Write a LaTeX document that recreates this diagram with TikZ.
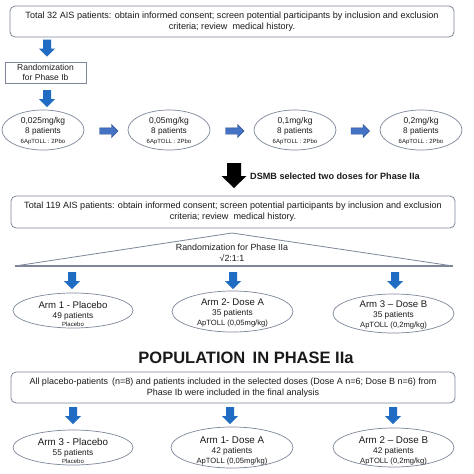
\documentclass[tikz,border=0pt]{standalone}
\usepackage{fontspec}
\setmainfont{Liberation Sans}
\usetikzlibrary{shapes.geometric}
\definecolor{ablue}{HTML}{1F6CC2}
\definecolor{rblue}{HTML}{4472C4}
\definecolor{rblueline}{HTML}{2F528F}
\definecolor{lineg}{HTML}{7D8799}
\definecolor{txt}{HTML}{1A1A1A}
\begin{document}
\begin{tikzpicture}[x=1pt,y=-1pt,
  box/.style={draw=lineg, line width=0.8pt, rounded corners=5pt, inner sep=0pt, text=txt},
  sqbox/.style={draw=lineg, line width=0.8pt, inner sep=0pt, text=txt},
  oval/.style={ellipse, draw=lineg, line width=0.7pt, inner sep=0pt},
  lbl/.style={align=center, inner sep=0pt, text=txt},
  darrow/.pic={\fill[ablue] (-4,0) -- (4,0) -- (4,9) -- (8,9) -- (0,17) -- (-8,9) -- (-4,9) -- cycle;},
  rarrow/.pic={\filldraw[fill=rblue, draw=rblueline, line width=0.4pt] (0,-3.2) -- (12,-3.2) -- (12,-6.5) -- (18.5,0) -- (12,6.5) -- (12,3.2) -- (0,3.2) -- cycle;},
  barrow/.pic={\fill[black] (-7,0) -- (7,0) -- (7,13) -- (12.5,13) -- (0,25) -- (-12.5,13) -- (-7,13) -- cycle;}
]
\useasboundingbox (0,0) rectangle (474,474);
\fill[white] (0,0) rectangle (474,474);

% ---------- Phase Ib ----------
\node[box, minimum width=444pt, minimum height=31pt] (top) at (232,21.5) {};
\node[lbl, font=\fontsize{9.1}{11}\selectfont] (toptxt) at (top) {Total 32 AIS patients: obtain informed consent; screen potential participants by inclusion and exclusion\\criteria; review \ medical history.};

\pic at (47,39.5) {darrow};

\node[sqbox, minimum width=81pt, minimum height=21pt] (rand) at (45.5,72.5) {};
\node[lbl, font=\fontsize{8.5}{10.5}\selectfont] at (rand) {Randomization\\for Phase Ib};

\pic at (47,90) {darrow};

\foreach \i/\x/\d in {1/43/{0,025mg/kg}, 2/169/{0,05mg/kg}, 3/295/{0,1mg/kg}, 4/421/{0,2mg/kg}}{
  \node[oval, minimum width=82pt, minimum height=40pt] (d\i) at (\x,130) {};
  \node[lbl] at (\x,131) {{\fontsize{8.5}{9}\selectfont \d}\\[-1.5pt]{\fontsize{8.2}{9}\selectfont 8 patients}\\[-2.5pt]{\fontsize{6}{7}\selectfont 6ApTOLL : 2Pbo}};
}
\pic at (99.5,131) {rarrow};
\pic at (225.5,131) {rarrow};
\pic at (351,131) {rarrow};

\pic at (234,163) {barrow};
\node[anchor=west, inner sep=0pt, font=\fontsize{9.1}{10}\bfseries\selectfont, text=txt] (dsmb) at (250,176) {DSMB selected two doses for Phase IIa};

% ---------- Phase IIa ----------
\node[box, minimum width=444pt, minimum height=32pt] (box2) at (233,212) {};
\node[lbl, font=\fontsize{9.1}{11}\selectfont] at (box2) {Total 119 AIS patients: obtain informed consent; screen potential participants by inclusion and exclusion\\criteria; review \ medical history.};

\coordinate (apex) at (232,233);
\coordinate (bl) at (15,266);
\coordinate (br) at (453,266);
\draw[lineg, line width=0.8pt] (bl) -- (apex) -- (br);
\draw[lineg, line width=1.2pt] (bl) -- (br);
\node[lbl, font=\fontsize{8.9}{10.5}\selectfont] (randtxt) at (232,253) {Randomization for Phase IIa\\√2:1:1};

\pic at (72,272) {darrow};
\pic at (233,272) {darrow};
\pic at (395,272) {darrow};

\node[oval, minimum width=120pt, minimum height=35pt] (a1) at (73,310.5) {};
\node[oval, minimum width=121pt, minimum height=41pt] (a2) at (232.5,311.5) {};
\node[oval, minimum width=121pt, minimum height=39pt] (a3) at (393.5,313.5) {};
\node[lbl] at (73,314) {{\fontsize{9.6}{10}\selectfont Arm 1 - Placebo}\\[-2pt]{\fontsize{8.3}{9}\selectfont 49 patients}\\[-3.5pt]{\fontsize{6}{7}\selectfont Placebo}};
\node[lbl] at (232.5,313) {{\fontsize{9.6}{10}\selectfont Arm 2- Dose A}\\[-2pt]{\fontsize{8.3}{9}\selectfont 35 patients}\\[-2pt]{\fontsize{7.6}{8}\selectfont ApTOLL (0,05mg/kg)}};
\node[lbl] at (393.5,315) {{\fontsize{9.6}{10}\selectfont Arm 3 – Dose B}\\[-2pt]{\fontsize{8.3}{9}\selectfont 35 patients}\\[-2pt]{\fontsize{7.6}{8}\selectfont ApTOLL (0,2mg/kg)}};

\node[inner sep=0pt, font=\fontsize{16.5}{20}\bfseries\selectfont, text=txt] (pop) at (246,358) {POPULATION \,IN PHASE IIa};

\node[box, minimum width=444pt, minimum height=31pt] (box3) at (233,387.5) {};
\node[lbl, font=\fontsize{9}{11.5}\selectfont] at (box3) {All placebo-patients \,(n=8) and patients included in the selected doses (Dose A n=6; Dose B n=6) from\\Phase Ib were included in the final analysis};

\pic at (73,407) {darrow};
\pic at (230,407) {darrow};
\pic at (393,407) {darrow};

\node[oval, minimum width=120pt, minimum height=35pt] (b1) at (73,447.5) {};
\node[oval, minimum width=122pt, minimum height=41pt] (b2) at (232,447.5) {};
\node[oval, minimum width=121pt, minimum height=39pt] (b3) at (393.5,447.5) {};
\node[lbl] at (73,451) {{\fontsize{9.8}{10}\selectfont Arm 3 - Placebo}\\[-2pt]{\fontsize{8.3}{9}\selectfont 55 patients}\\[-3.5pt]{\fontsize{6}{7}\selectfont Placebo}};
\node[lbl] at (232,450.5) {{\fontsize{9.8}{10}\selectfont Arm 1- Dose A}\\[-2pt]{\fontsize{8.3}{9}\selectfont 42 patients}\\[-2pt]{\fontsize{7.6}{8}\selectfont ApTOLL (0,05mg/kg)}};
\node[lbl] at (393.5,450.5) {{\fontsize{9.8}{10}\selectfont Arm 2 – Dose B}\\[-2pt]{\fontsize{8.3}{9}\selectfont 42 patients}\\[-2pt]{\fontsize{7.6}{8}\selectfont ApTOLL (0,2mg/kg)}};
\end{tikzpicture}
\end{document}
